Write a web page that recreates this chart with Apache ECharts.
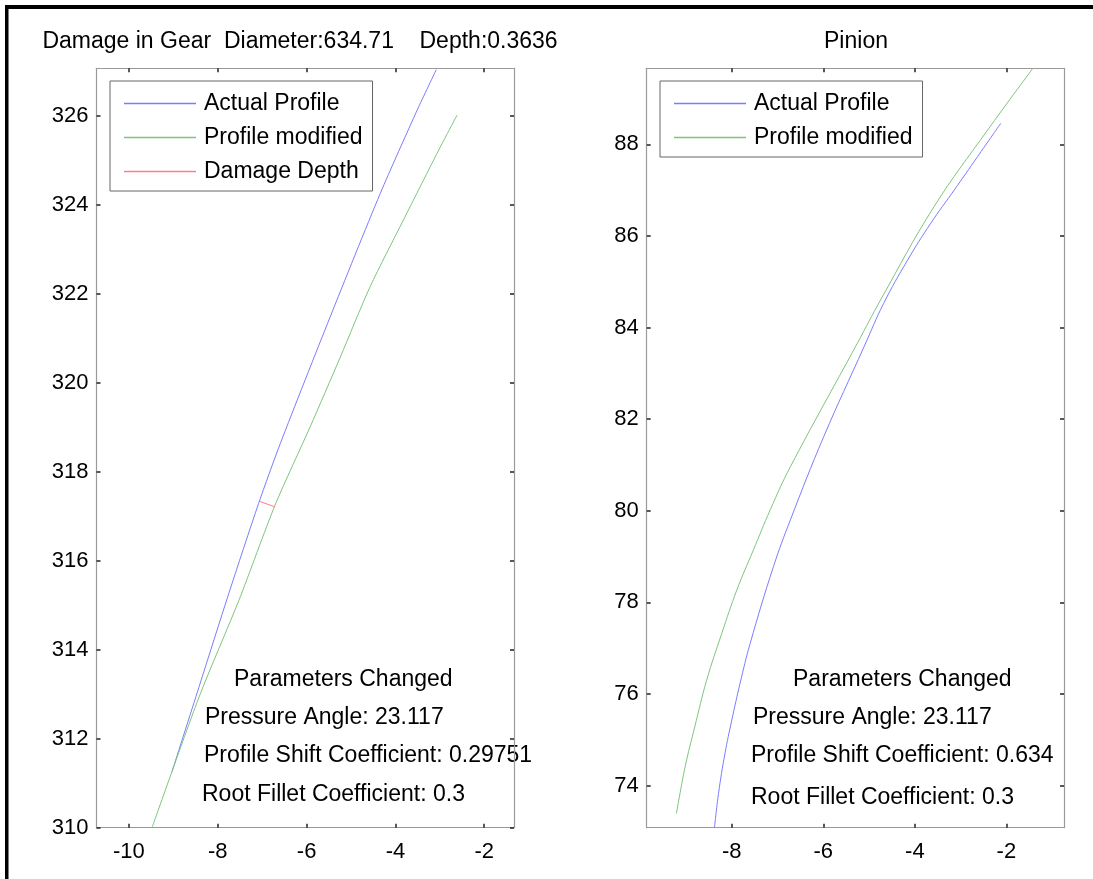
<!DOCTYPE html>
<html>
<head>
<meta charset="utf-8">
<title>Damage in Gear / Pinion</title>
<script src="https://cdn.jsdelivr.net/npm/echarts@6/dist/echarts.min.js"></script>
<style>
  html, body { margin: 0; padding: 0; background: #fff; }
  #chart { width: 1093px; height: 879px; }
</style>
</head>
<body>
<div id="chart"></div>
<script>
// left panel: gear tooth profile, [x, y]
const gearActual = [
  [-9.03, 311.26], [-8.42, 313.17], [-7.75, 315.27], [-7.08, 317.29], [-6.59, 318.64],
  [-5.47, 321.48], [-4.34, 324.26], [-3.51, 326.13], [-3.08, 327.04]
];
const gearModified = [
  [-9.48, 310.00], [-8.42, 312.94], [-7.52, 315.12], [-6.71, 317.25], [-5.92, 319.01],
  [-5.24, 320.58], [-4.57, 322.16], [-3.82, 323.66], [-2.99, 325.30], [-2.61, 326.02]
];
const gearDamage = [[-7.07, 317.34], [-6.71, 317.21]];

// right panel: pinion tooth profile, [x, y]
const pinionActual = [
  [-8.38, 73.07], [-8.29, 73.83], [-8.15, 74.70], [-8.00, 75.43], [-7.82, 76.23],
  [-7.60, 77.10], [-7.09, 78.78], [-6.72, 79.80], [-5.99, 81.62], [-5.11, 83.58],
  [-4.68, 84.53], [-4.16, 85.47], [-3.65, 86.28], [-3.14, 87.00], [-2.63, 87.73],
  [-2.12, 88.46]
];
const pinionModified = [
  [-9.21, 73.39], [-9.02, 74.41], [-8.81, 75.28], [-8.55, 76.30], [-8.22, 77.32],
  [-7.89, 78.27], [-7.53, 79.14], [-7.16, 80.02], [-6.72, 80.96],
  [-5.26, 83.65], [-4.75, 84.60], [-3.58, 86.64], [-2.41, 88.31], [-1.42, 89.66]
];

const gearXTicks = [-10, -8, -6, -4, -2];
const gearYTicks = [310, 312, 314, 316, 318, 320, 322, 324, 326];
const pinionXTicks = [-8, -6, -4, -2];
const pinionYTicks = [74, 76, 78, 80, 82, 84, 86, 88];

const gearTitle = 'Damage in Gear  Diameter:634.71    Depth:0.3636';
const pinionTitle = 'Pinion';
const gearNotes = ['Parameters Changed', 'Pressure Angle: 23.117', 'Profile Shift Coefficient: 0.29751', 'Root Fillet Coefficient: 0.3'];
const pinionNotes = ['Parameters Changed', 'Pressure Angle: 23.117', 'Profile Shift Coefficient: 0.634', 'Root Fillet Coefficient: 0.3'];

const FONT = "'Liberation Sans', Arial, sans-serif";
const BLUE = '#7c7cff';
const GREEN = '#7fc47f';
const RED = '#ff7f7f';

function makeAxis(dim, gridIndex, position, min, max, ticks, withLabels) {
  return {
    type: 'value',
    gridIndex: gridIndex,
    position: position,
    min: min,
    max: max,
    axisLine: { show: true, onZero: false, lineStyle: { color: '#9a9a9a', width: 1.2 } },
    axisTick: { show: true, inside: true, length: 4, customValues: ticks, lineStyle: { color: '#222', width: 1.5 } },
    axisLabel: {
      show: withLabels,
      customValues: ticks,
      color: '#000',
      fontFamily: FONT,
      fontSize: 22,
      margin: dim === 'x' ? 13 : 8,
    },
    splitLine: { show: false },
  };
}

function noteText(x, y, text, align) {
  return {
    type: 'text',
    x: x,
    y: y,
    silent: true,
    style: {
      text: text,
      fill: '#000',
      font: '23px ' + FONT,
      align: align,
      textAlign: align,
      verticalAlign: 'middle',
      textVerticalAlign: 'middle',
    },
  };
}

function lineSeries(name, data, color, xi, yi, smooth) {
  return {
    name: name,
    type: 'line',
    data: data,
    xAxisIndex: xi,
    yAxisIndex: yi,
    symbol: 'none',
    showSymbol: false,
    smooth: smooth,
    clip: true,
    color: color,
    lineStyle: { color: color, width: 1 },
    itemStyle: { color: color },
  };
}

// flat rect sample with every colour given, so nothing is left to 'inherit'
function legendItem(name, color) {
  return {
    name: name,
    icon: 'rect',
    itemStyle: { color: color, borderColor: color, borderWidth: 0, opacity: 1 },
  };
}

const legendBase = {
  orient: 'vertical',
  top: 81,
  itemWidth: 72,
  itemHeight: 1.5,
  itemGap: 11,
  padding: [11, 10, 8, 14],
  borderColor: '#666',
  borderWidth: 1,
  backgroundColor: '#fff',
  selectedMode: false,
  textStyle: { color: '#000', fontFamily: FONT, fontSize: 23, padding: [0, 0, 0, 3] },
};

const chart = echarts.init(document.getElementById('chart'));
chart.setOption({
  animation: false,
  backgroundColor: '#fff',
  grid: [
    { left: 96.5, right: 579, top: 68.3, bottom: 51.3 },
    { left: 646.7, right: 29, top: 68.3, bottom: 51.3 },
  ],
  xAxis: [
    makeAxis('x', 0, 'bottom', -10.73, -1.33, gearXTicks, true),
    makeAxis('x', 0, 'top', -10.73, -1.33, gearXTicks, false),
    makeAxis('x', 1, 'bottom', -9.86, -0.74, pinionXTicks, true),
    makeAxis('x', 1, 'top', -9.86, -0.74, pinionXTicks, false),
  ],
  yAxis: [
    makeAxis('y', 0, 'left', 310, 327.07, gearYTicks, true),
    makeAxis('y', 0, 'right', 310, 327.07, gearYTicks, false),
    makeAxis('y', 1, 'left', 73.08, 89.66, pinionYTicks, true),
    makeAxis('y', 1, 'right', 73.08, 89.66, pinionYTicks, false),
  ],
  legend: [
    Object.assign({}, legendBase, {
      left: 110,
      data: [legendItem('Actual Profile', BLUE), legendItem('Profile modified', GREEN), legendItem('Damage Depth', RED)],
    }),
    Object.assign({}, legendBase, {
      left: 660,
      data: [legendItem('Actual Profile', BLUE), legendItem('Profile modified', GREEN)],
    }),
  ],
  graphic: [
    { type: 'rect', silent: true, shape: { x: 5, y: 5, width: 1088, height: 4 }, style: { fill: '#000' } },
    { type: 'rect', silent: true, shape: { x: 5, y: 5, width: 3.5, height: 874 }, style: { fill: '#000' } },
    noteText(300, 42, gearTitle, 'center'),
    noteText(856, 42, pinionTitle, 'center'),
    noteText(234, 680, gearNotes[0], 'left'),
    noteText(205, 718, gearNotes[1], 'left'),
    noteText(204, 756, gearNotes[2], 'left'),
    noteText(202, 795, gearNotes[3], 'left'),
    noteText(793, 680, pinionNotes[0], 'left'),
    noteText(753, 718, pinionNotes[1], 'left'),
    noteText(751, 756, pinionNotes[2], 'left'),
    noteText(751, 798, pinionNotes[3], 'left'),
  ],
  series: [
    lineSeries('Actual Profile', gearActual, BLUE, 0, 0, 0.25),
    lineSeries('Profile modified', gearModified, GREEN, 0, 0, 0.25),
    lineSeries('Damage Depth', gearDamage, RED, 0, 0, false),
    lineSeries('Actual Profile', pinionActual, BLUE, 2, 2, 0.4),
    lineSeries('Profile modified', pinionModified, GREEN, 2, 2, 0.4),
  ],
});
</script>
</body>
</html>
